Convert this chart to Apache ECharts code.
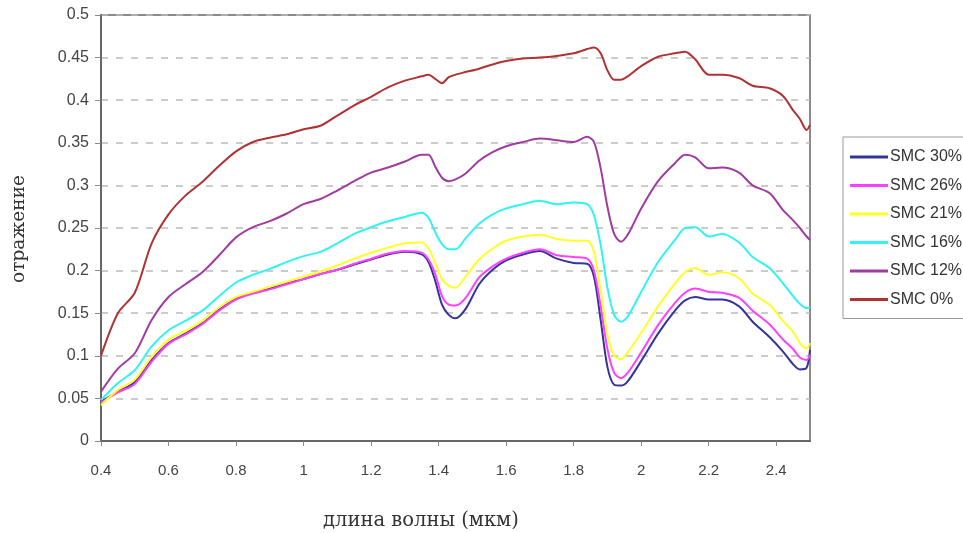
<!DOCTYPE html>
<html>
<head>
<meta charset="utf-8">
<script src="https://cdn.jsdelivr.net/npm/echarts@6/dist/echarts.min.js"></script>
<style>
  html, body { margin: 0; padding: 0; background: #fff; }
  #chart { width: 963px; height: 533px; }
</style>
</head>
<body>
<div id="chart"></div>
<script>
// длина волны, мкм
var wavelengths = [0.40,0.45,0.50,0.55,0.60,0.65,0.70,0.75,0.80,0.85,0.90,0.95,1.00,1.05,1.10,1.15,1.20,1.25,1.30,1.35,
  1.37,1.39,1.41,1.43,1.45,1.48,1.52,1.56,1.60,1.65,1.70,1.75,1.80,1.84,1.86,1.88,1.90,1.92,1.94,1.96,
  2.00,2.05,2.10,2.13,2.16,2.20,2.24,2.29,2.33,2.38,2.42,2.45,2.47,2.49,2.50];

var smc30 = [0.046,0.058,0.069,0.095,0.115,0.126,0.138,0.154,0.167,0.174,0.179,0.185,0.190,0.196,0.201,0.207,0.213,0.219,0.222,0.219,
  0.210,0.188,0.160,0.148,0.144,0.155,0.184,0.201,0.212,0.219,0.223,0.214,0.209,0.208,0.193,0.142,0.087,0.066,0.065,0.070,
  0.094,0.126,0.153,0.165,0.169,0.166,0.166,0.158,0.140,0.122,0.105,0.090,0.084,0.086,0.107];

var smc26 = [0.045,0.057,0.067,0.093,0.114,0.125,0.137,0.153,0.166,0.173,0.178,0.184,0.190,0.196,0.201,0.208,0.214,0.220,0.223,0.221,
  0.213,0.196,0.170,0.160,0.159,0.168,0.192,0.205,0.214,0.221,0.225,0.218,0.216,0.214,0.200,0.158,0.108,0.080,0.074,0.080,
  0.104,0.136,0.162,0.174,0.179,0.175,0.174,0.168,0.153,0.137,0.119,0.108,0.098,0.095,0.101];

var smc21 = [0.042,0.060,0.072,0.099,0.119,0.129,0.141,0.157,0.169,0.175,0.181,0.187,0.193,0.199,0.206,0.214,0.221,0.227,0.232,0.233,
  0.226,0.209,0.190,0.182,0.180,0.193,0.213,0.226,0.235,0.240,0.242,0.237,0.235,0.235,0.222,0.176,0.125,0.100,0.096,0.104,
  0.127,0.158,0.185,0.198,0.203,0.195,0.198,0.191,0.173,0.160,0.141,0.128,0.115,0.109,0.115];

var smc16 = [0.048,0.068,0.083,0.111,0.130,0.141,0.153,0.170,0.186,0.195,0.202,0.210,0.217,0.222,0.232,0.243,0.251,0.258,0.263,0.268,
  0.262,0.245,0.231,0.225,0.225,0.238,0.255,0.266,0.273,0.278,0.282,0.278,0.280,0.278,0.265,0.230,0.180,0.148,0.140,0.146,
  0.175,0.210,0.236,0.250,0.251,0.240,0.243,0.233,0.216,0.203,0.185,0.170,0.161,0.156,0.157];

var smc12 = [0.058,0.085,0.103,0.142,0.169,0.184,0.198,0.218,0.239,0.251,0.258,0.267,0.278,0.284,0.294,0.305,0.315,0.321,0.328,0.336,
  0.336,0.322,0.309,0.305,0.307,0.314,0.329,0.339,0.346,0.351,0.355,0.353,0.351,0.357,0.351,0.320,0.275,0.243,0.234,0.242,
  0.273,0.305,0.326,0.336,0.333,0.320,0.321,0.315,0.300,0.291,0.271,0.259,0.250,0.240,0.236];

var smc0 = [0.100,0.150,0.174,0.232,0.266,0.288,0.304,0.323,0.340,0.351,0.356,0.360,0.366,0.370,0.382,0.394,0.404,0.415,0.423,0.428,
  0.430,0.425,0.420,0.427,0.430,0.433,0.437,0.442,0.446,0.449,0.450,0.452,0.455,0.460,0.462,0.455,0.435,0.424,0.424,0.428,
  0.440,0.451,0.455,0.457,0.448,0.430,0.430,0.426,0.417,0.414,0.405,0.388,0.378,0.365,0.371];

var seriesNames = ['SMC 30%', 'SMC 26%', 'SMC 21%', 'SMC 16%', 'SMC 12%', 'SMC 0%'];
var seriesValues = [smc30, smc26, smc21, smc16, smc12, smc0];
var seriesColors = ['#34349a', '#ff40ff', '#ffff26', '#30f4f4', '#a03ca0', '#b03232'];

function pairs(vals) {
  return wavelengths.map(function (w, i) { return [w, vals[i]]; });
}

var chart = echarts.init(document.getElementById('chart'));

var option = {
  backgroundColor: '#fff',
  animation: false,
  grid: {
    left: 101, right: 153, top: 15, bottom: 92,
    show: true,
    borderColor: '#666',
    borderWidth: 1.5
  },
  legend: {
    orient: 'vertical',
    left: 843,
    top: 137,
    padding: [12, 30, 11, 7],
    itemGap: 12.5,
    itemWidth: 38,
    itemHeight: 3,
    icon: 'rect',
    borderColor: '#999',
    borderWidth: 1,
    textStyle: { fontFamily: 'Arial, "Liberation Sans"', fontSize: 16, color: '#333', padding: [0, 0, 0, -3], lineHeight: 16 },
    data: seriesNames
  },
  xAxis: {
    type: 'value',
    min: 0.4,
    max: 2.5,
    interval: 0.2,
    axisLine: { show: true, lineStyle: { color: '#666', width: 2 } },
    axisTick: { show: true, length: 5, lineStyle: { color: '#888' } },
    axisLabel: { showMaxLabel: false, color: '#444', fontFamily: 'Arial, "Liberation Sans"', fontSize: 15, margin: 22 },
    splitLine: { show: false }
  },
  yAxis: {
    type: 'value',
    min: 0,
    max: 0.5,
    interval: 0.05,
    axisLine: { show: true, lineStyle: { color: '#666', width: 2 } },
    axisTick: { show: true, length: 6, lineStyle: { color: '#888' } },
    axisLabel: { color: '#444', fontFamily: 'Arial, "Liberation Sans"', fontSize: 16, margin: 12 },
    splitLine: { show: true, lineStyle: { color: '#bbb', type: [7, 8], width: 1.5 } }
  },
  graphic: [
    {
      type: 'text',
      x: 19, y: 229,
      rotation: Math.PI / 2,
      style: { text: 'отражение', font: '18.5px "DejaVu Serif", "Liberation Serif", serif', fill: '#333', align: 'center', verticalAlign: 'middle' }
    },
    {
      type: 'text',
      x: 421, y: 521,
      style: { text: 'длина волны (мкм)', font: '19.5px "DejaVu Serif", "Liberation Serif", serif', fill: '#333', align: 'center', verticalAlign: 'middle' }
    }
  ],
  series: seriesNames.map(function (name, i) {
    return {
      name: name,
      type: 'line',
      data: pairs(seriesValues[i]),
      showSymbol: false,
      smooth: 0.3,
      lineStyle: { color: seriesColors[i], width: 2 },
      itemStyle: { color: seriesColors[i] },
      z: 2 + i
    };
  })
};

chart.setOption(option);
</script>
</body>
</html>
